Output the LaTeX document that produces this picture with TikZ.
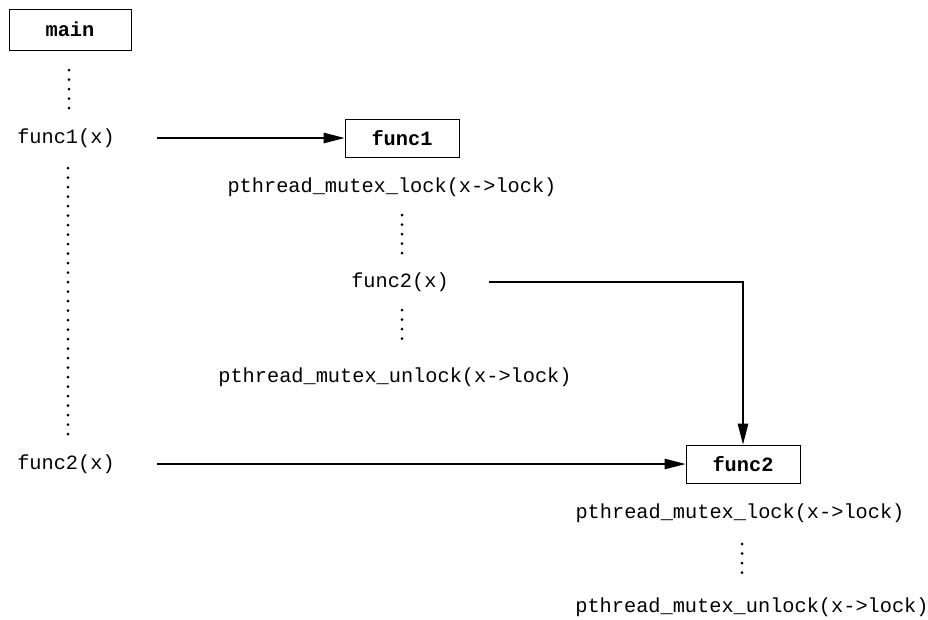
\documentclass[tikz,border=0pt]{standalone}
\usepackage{fontspec}
\newfontfamily\codefont{Liberation Mono}
\usetikzlibrary{arrows.meta}
\tikzset{
  code/.style={inner sep=0pt, font=\codefont\fontsize{20.3}{24}\selectfont},
  fnbox/.style={draw, line width=1pt, inner sep=0pt,
                font=\codefont\bfseries\fontsize{20.3}{24}\selectfont},
  call/.style={line width=1.2pt, shorten <=42pt,
               -{Triangle[length=21pt,width=10.5pt]}},
  elide/.style={line width=3pt, line cap=round, dash pattern=on 0pt off 9.5pt}
}
\begin{document}
\begin{tikzpicture}[x=1pt,y=-1pt]
\useasboundingbox (0,0) rectangle (928,619);

% caller: main
\node[fnbox, minimum width=122pt, minimum height=41pt] (main) at (70,29.5) {main};
\node[code] (f1call) at (66,138) {func1(x)};
\node[code] (f2call0) at (66,464) {func2(x)};

% callee: func1
\node[fnbox, minimum width=114pt, minimum height=38pt] (f1box) at (402,138) {func1};
\node[code] (lock1) at (392,187) {pthread\_mutex\_lock(x->lock)};
\node[code] (f2call1) at (400,282) {func2(x)};
\node[code] (unlock1) at (395,377) {pthread\_mutex\_unlock(x->lock)};

% callee: func2
\node[fnbox, minimum width=114pt, minimum height=38pt] (f2box) at (743,464) {func2};
\node[code] (lock2) at (740,513) {pthread\_mutex\_lock(x->lock)};
\node[code] (unlock2) at (752,607) {pthread\_mutex\_unlock(x->lock)};

% elided code
\coordinate (d1a) at (69,70);   \coordinate (d1b) at (69,108);
\coordinate (d2a) at (68,168);  \coordinate (d2b) at (68,434);
\coordinate (d3a) at (402,215); \coordinate (d3b) at (402,253);
\coordinate (d4a) at (402,310); \coordinate (d4b) at (402,348);
\coordinate (d5a) at (742,544); \coordinate (d5b) at (742,582);
\draw[elide] (d1a) -- (d1b);
\draw[elide] (d2a) -- (d2b);
\draw[elide] (d3a) -- (d3b);
\draw[elide] (d4a) -- (d4b);
\draw[elide] (d5a) -- (d5b);

% calls
\draw[call] (f1call.east) -- (f1box.west);
\draw[call] (f2call0.east) -- (f2box.west);
\draw[call, shorten <=40pt] (f2call1.east) -| (f2box.north);
\end{tikzpicture}
\end{document}
